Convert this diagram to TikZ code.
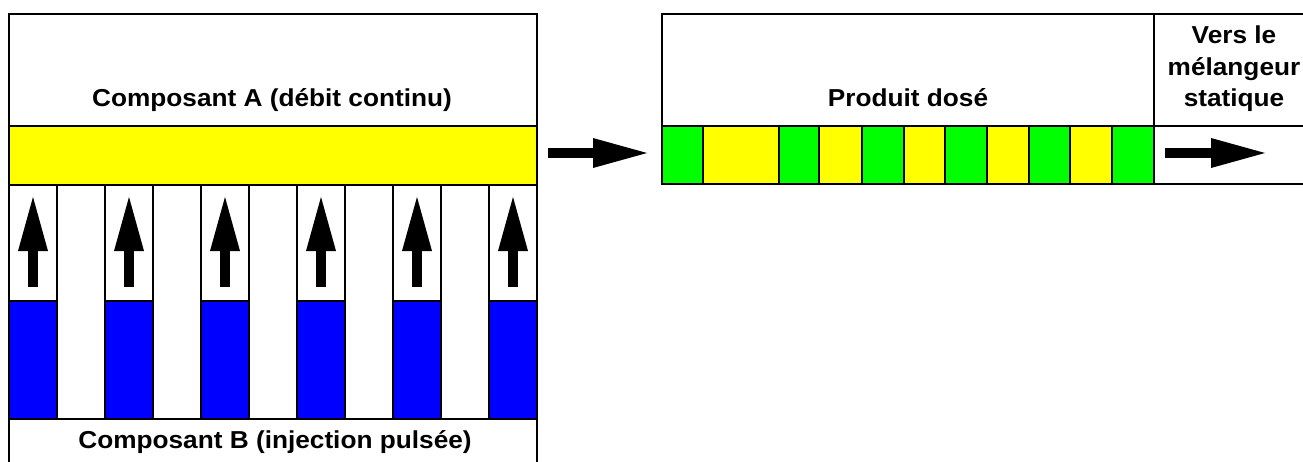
\documentclass[tikz,border=0pt]{standalone}
\usepackage{fontspec}
\setmainfont[FakeStretch=1.07]{Liberation Sans}
\usetikzlibrary{arrows.meta}
\definecolor{jaune}{RGB}{255,255,0}
\definecolor{vert}{RGB}{0,255,0}
\definecolor{bleu}{RGB}{0,0,255}
\tikzset{
  cadre/.style={line width=2pt},
  fleche/.style={line width=9.5pt, -{Triangle[length=54pt,width=30pt,line width=0pt]}},
  etiquette/.style={font=\fontsize{24.5}{31.5}\selectfont\bfseries, inner sep=0pt},
}
\begin{document}
\begin{tikzpicture}[x=1pt, y=-1pt, line join=miter]
  \useasboundingbox (0,0) rectangle (1303,461);
  % Composant A
  \fill[jaune] (9,126) rectangle (537,185);
  \draw[cadre] (9,14) rectangle (537,126);
  \draw[cadre] (9,126) rectangle (537,185);
  \node[etiquette, anchor=base] (compA) at (272,106) {Composant A (débit continu)};
  % Composant B : colonnes d'injection
  \foreach \i in {0,2,...,10} {
    \fill[bleu] (9+48*\i,301) rectangle (57+48*\i,419);
    \draw[cadre] (9+48*\i,301) -- (57+48*\i,301);
    \coordinate (bas\i) at (33+48*\i,287);
    \coordinate (haut\i) at (33+48*\i,197);
    \draw[fleche] (bas\i) -- (haut\i);
  }
  \foreach \i in {0,...,11}
    \draw[cadre] (9+48*\i,185) -- (9+48*\i,419);
  \draw[cadre] (9,419) -- (537,419);
  \draw[cadre] (9,419) -- (9,475) (537,419) -- (537,475);
  \node[etiquette, anchor=base] (compB) at (275,448) {Composant B (injection pulsée)};
  % Passage vers le produit dose
  \coordinate (depart) at (548,153);
  \coordinate (arrivee) at (647,153);
  \draw[fleche] (depart) -- (arrivee);
  % Produit dose
  \foreach \a/\b/\c in {662/703/vert, 703/779/jaune, 779/819/vert, 819/862/jaune,
      862/904/vert, 904/945/jaune, 945/987/vert, 987/1029/jaune, 1029/1070/vert,
      1070/1112/jaune, 1112/1154/vert} {
    \fill[\c] (\a,126) rectangle (\b,184);
    \draw[cadre] (\a,126) -- (\a,184);
  }
  \draw[cadre] (662,14) rectangle (1320,126);
  \draw[cadre] (662,126) rectangle (1320,184);
  \draw[cadre] (1154,14) -- (1154,184);
  \node[etiquette, anchor=base] (produit) at (908,106) {Produit dosé};
  % Sortie
  \node[etiquette, anchor=north, align=center] (sortie) at (1234,26) {Vers le\\mélangeur\\statique};
  \coordinate (sortieA) at (1165,153);
  \coordinate (sortieB) at (1265,153);
  \draw[fleche] (sortieA) -- (sortieB);
\end{tikzpicture}
\end{document}
